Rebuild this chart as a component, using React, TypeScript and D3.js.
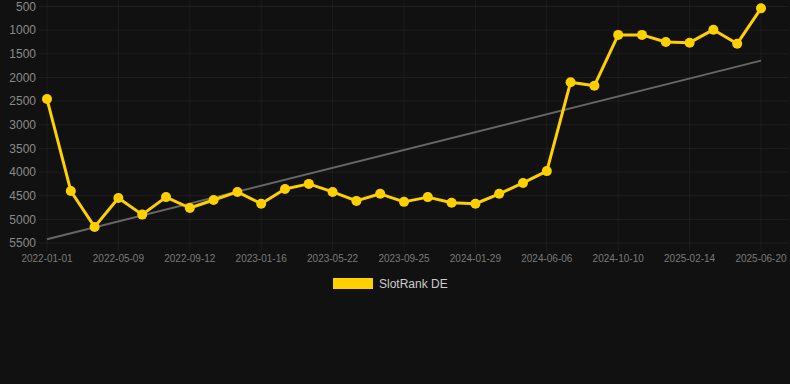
import React from "react";
import * as d3 from "d3";

const dates: string[] = [
  "2022-01-01", "2022-02-12", "2022-03-26", "2022-05-09", "2022-06-20", "2022-08-01",
  "2022-09-12", "2022-10-24", "2022-12-05", "2023-01-16", "2023-02-27", "2023-04-10",
  "2023-05-22", "2023-07-03", "2023-08-14", "2023-09-25", "2023-11-06", "2023-12-18",
  "2024-01-29", "2024-03-12", "2024-04-24", "2024-06-06", "2024-07-18", "2024-08-29",
  "2024-10-10", "2024-11-21", "2025-01-02", "2025-02-14", "2025-03-28", "2025-05-09",
  "2025-06-20",
];

const ranks: number[] = [
  2456, 4400, 5160, 4550, 4900, 4530, 4760, 4590, 4420, 4670,
  4360, 4250, 4420, 4610, 4460, 4630, 4530, 4650, 4670, 4460,
  4230, 3980, 2100, 2175, 1100, 1100, 1250, 1265, 990, 1286, 538,
];

const yTicks: number[] = [500, 1000, 1500, 2000, 2500, 3000, 3500, 4000, 4500, 5000, 5500];
const seriesName = "SlotRank DE";

const W = 790;
const H = 384;
const left = 47;
const right = 761;
const top = 6.5;
const bottom = 243;

export default function App() {
  const x = d3.scalePoint<string>().domain(dates).range([left, right]);
  const y = d3.scaleLinear().domain([500, 5500]).range([top, bottom]);

  const idx = ranks.map((_, i) => i);
  const mx = d3.mean(idx)!;
  const my = d3.mean(ranks)!;
  const slope =
    d3.sum(idx, (i) => (i - mx) * (ranks[i] - my)) / d3.sum(idx, (i) => (i - mx) ** 2);
  const trend = (i: number) => my + slope * (i - mx);

  const line = d3
    .line<number>()
    .x((_, i) => x(dates[i])!)
    .y((v) => y(v));

  const labeled = dates.filter((_, i) => i % 3 === 0);
  const grid = "rgba(255,255,255,0.05)";
  const bg = "#111111";

  return (
    <svg
      width={W}
      height={H}
      style={{ position: "absolute", left: 0, top: 0, background: bg, fontFamily: "Arial, 'Liberation Sans', sans-serif" }}
    >
      <rect x={0} y={0} width={W} height={H} fill={bg} />
      {yTicks.map((t) => (
        <g key={t}>
          <line x1={39} x2={789} y1={y(t)} y2={y(t)} stroke={grid} strokeWidth={1} />
          <text x={36} y={y(t)} dy="0.35em" textAnchor="end" fontSize={12} fill="#8a8a8a">
            {t}
          </text>
        </g>
      ))}
      {labeled.map((d) => (
        <g key={d}>
          <line x1={x(d)!} x2={x(d)!} y1={0} y2={251} stroke={grid} strokeWidth={1} />
          <text x={x(d)!} y={262} textAnchor="middle" fontSize={10} fill="#7a7a7a">
            {d}
          </text>
        </g>
      ))}
      <line
        x1={x(dates[0])!}
        y1={y(trend(0))}
        x2={x(dates[dates.length - 1])!}
        y2={y(trend(dates.length - 1))}
        stroke="#666"
        strokeWidth={2}
      />
      <path d={line(ranks)!} fill="none" stroke="#FFD000" strokeWidth={3} strokeLinejoin="round" />
      {ranks.map((v, i) => (
        <circle key={i} cx={x(dates[i])!} cy={y(v)} r={5} fill="#FFD000" />
      ))}
      <rect x={333} y={278} width={40} height={11} fill="#FFD000" />
      <text x={379} y={288} fontSize={12} fill="#cccccc">
        {seriesName}
      </text>
    </svg>
  );
}
